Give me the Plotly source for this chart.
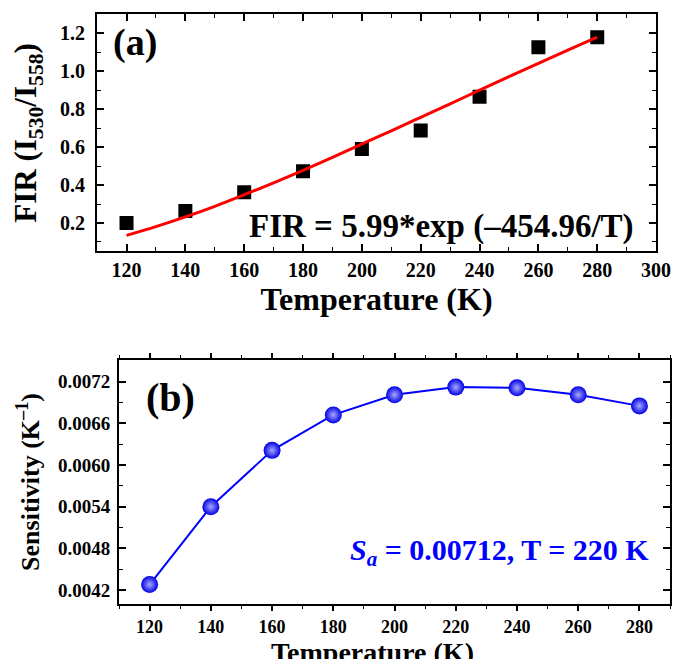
import plotly.graph_objects as go

# ---------- data ----------
temps = [120, 140, 160, 180, 200, 220, 240, 260, 280]
fir_values = [0.20, 0.263, 0.362, 0.473, 0.59, 0.687, 0.865, 1.126, 1.179]

fit_temps = [120, 130, 140, 150, 160, 170, 180, 190, 200, 210, 220, 230, 240, 250, 260, 270, 280]
fit_values = [0.135, 0.181, 0.232, 0.288, 0.349, 0.412, 0.478, 0.546, 0.616, 0.686,
              0.757, 0.828, 0.900, 0.971, 1.041, 1.111, 1.180]

sens_values = [0.00428, 0.00540, 0.00621, 0.00672, 0.00701, 0.00712, 0.00711, 0.00701, 0.00685]

x_ticks_a = [120, 140, 160, 180, 200, 220, 240, 260, 280, 300]
x_ticks_b = [120, 140, 160, 180, 200, 220, 240, 260, 280]

FONT = "Liberation Serif"

fig = go.Figure()

fig.add_trace(go.Scatter(
    x=temps, y=fir_values, mode="markers",
    marker=dict(symbol="square", size=14, color="black"),
    xaxis="x", yaxis="y", showlegend=False))

fig.add_trace(go.Scatter(
    x=fit_temps, y=fit_values, mode="lines",
    line=dict(color="#ff0000", width=3, shape="spline"),
    xaxis="x", yaxis="y", showlegend=False))

fig.add_trace(go.Scatter(
    x=temps, y=sens_values, mode="lines+markers",
    line=dict(color="#0000ff", width=2),
    marker=dict(symbol="circle", size=17, color="#0000e6",
                gradient=dict(type="radial", color="#a8a8ff"),
                line=dict(width=0)),
    xaxis="x2", yaxis="y2", showlegend=False))

common_axis = dict(
    showline=True, linecolor="black", linewidth=2, mirror="ticks",
    showgrid=False, zeroline=False, tickcolor="black",
)

fig.update_layout(
    width=687, height=659,
    margin=dict(l=0, r=0, t=0, b=0),
    paper_bgcolor="white", plot_bgcolor="white",
    font=dict(family=FONT, color="black", weight="bold"),
    xaxis=dict(
        domain=[0.1445, 0.9763], anchor="y", range=[110, 300],
        tickmode="array", tickvals=x_ticks_a,
        ticks="inside", ticklen=7, tickwidth=1.5,
        minor=dict(dtick=10, tick0=110, ticks="inside", ticklen=4, tickwidth=1.2, tickcolor="black"),
        tickfont=dict(size=20, family=FONT, weight="bold"),
        ticklabelstandoff=0,
        title=dict(text="Temperature (K)", font=dict(size=32, family=FONT, weight="bold"), standoff=2),
        **common_axis),
    yaxis=dict(
        domain=[0.6184, 0.9783], anchor="x", range=[0.05, 1.3],
        tick0=0.2, dtick=0.2, tickformat=".1f",
        ticks="inside", ticklen=7, tickwidth=1.5,
        minor=dict(dtick=0.1, tick0=0.1, ticks="inside", ticklen=4, tickwidth=1.2, tickcolor="black"),
        tickfont=dict(size=20, family=FONT, weight="bold"),
        ticklabelstandoff=6,
        title=dict(text="FIR (I<sub>530</sub>/I<sub>558</sub>)", font=dict(size=31, family=FONT, weight="bold"), standoff=14),
        **common_axis),
    xaxis2=dict(
        domain=[0.1771, 0.9971], anchor="y2", range=[110, 290],
        tickmode="array", tickvals=x_ticks_b,
        ticks="outside", ticklen=5, tickwidth=1.5,
        minor=dict(dtick=10, tick0=110, ticks="outside", ticklen=3, tickwidth=1.2, tickcolor="black"),
        tickfont=dict(size=18, family=FONT, weight="bold"),
        ticklabelstandoff=0,
        **common_axis),
    yaxis2=dict(
        domain=[0.0835, 0.4537], anchor="x2", range=[0.00400, 0.00751],
        tick0=0.0042, dtick=0.0006, tickformat=".4f",
        ticks="inside", ticklen=7, tickwidth=1.5,
        minor=dict(dtick=0.0003, tick0=0.0039, ticks="inside", ticklen=4, tickwidth=1.2, tickcolor="black"),
        tickfont=dict(size=19, family=FONT, weight="bold"),
        ticklabelstandoff=3,
        title=dict(text="Sensitivity (K<sup>\u20131</sup>)", font=dict(size=26, family=FONT, weight="bold"), standoff=11),
        **common_axis),
    annotations=[
        dict(text="(a)", xref="paper", yref="paper", x=113 / 687, y=1 - 42 / 659,
             xanchor="left", yanchor="middle", showarrow=False,
             font=dict(size=38, family=FONT, weight="bold", color="black")),
        dict(text="FIR = 5.99*exp (\u2013454.96/T)", xref="paper", yref="paper",
             x=650 / 687, y=1 - 226 / 659, xanchor="right", yanchor="middle", showarrow=False,
             font=dict(size=33, family=FONT, weight="bold", color="black")),
        dict(text="(b)", xref="paper", yref="paper", x=147 / 687, y=1 - 397 / 659,
             xanchor="left", yanchor="middle", showarrow=False,
             font=dict(size=40, family=FONT, weight="bold", color="black")),
        dict(text="<i>S</i><sub><i>a</i></sub> = 0.00712, T = 220 K", xref="paper", yref="paper",
             x=666 / 687, y=1 - 552 / 659, xanchor="right", yanchor="middle", showarrow=False,
             font=dict(size=30, family=FONT, weight="bold", color="#0000ff")),
        dict(text="Temperature (K)", xref="x2 domain", yref="paper",
             x=0.46, y=1 - 652 / 659, xanchor="center", yanchor="middle", showarrow=False,
             font=dict(size=28, family=FONT, weight="bold", color="black")),
    ],
)

fig.write_html("out.html", config={"displayModeBar": False},
               post_script="document.body.style.margin='0px';document.body.style.overflow='hidden';")
